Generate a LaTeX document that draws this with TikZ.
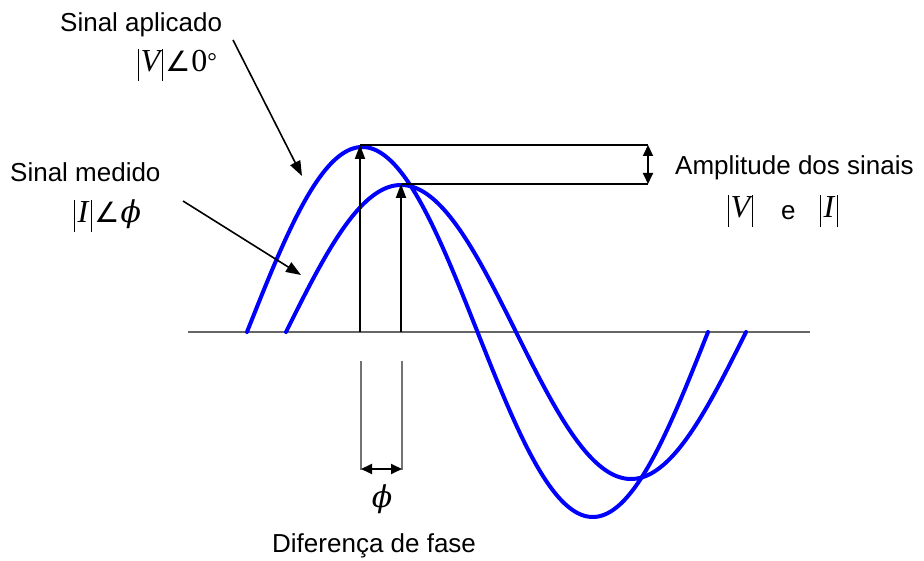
\documentclass[tikz,border=0pt]{standalone}
\usepackage[no-math]{fontspec}
\setmainfont{Liberation Sans}
\newfontfamily\tms{Liberation Serif}
\newfontfamily\djsans{DejaVu Sans}
\newfontfamily\djserif{DejaVu Serif}
\usetikzlibrary{arrows.meta}
\newcommand{\tV}{{\tms\itshape V}}
\newcommand{\tI}{{\tms\itshape I}}
\newcommand{\vbarx}{\kern1.5pt\rule[-9pt]{1.3pt}{32pt}\kern1.5pt}
\newcommand{\ang}{{\djsans\fontsize{28}{30}\selectfont\kern1pt ∠\kern1pt}}
\newcommand{\tphi}{{\djserif\itshape\fontsize{30}{32}\selectfont ϕ}}
\begin{document}
\begin{tikzpicture}[x=1pt,y=-1pt,
  lbl/.style={inner sep=0pt, font=\fontsize{26}{30}\selectfont},
  mth/.style={inner sep=0pt, font=\tms\fontsize{32}{36}\selectfont},
  sig/.style={draw=blue, line width=4pt, line join=round, line cap=round},
  ptr/.style={line width=1.6pt, -{Triangle[length=15pt,width=11pt]}},
  bigarrow/.style={line width=2pt, -{Triangle[length=14pt,width=10pt]}},
  dimarrow/.style={line width=1.8pt, {Triangle[length=11pt,width=10pt]}-{Triangle[length=11pt,width=10pt]}},
  guide/.style={line width=1.3pt, black},
  lowguide/.style={line width=1.5pt, black!55},
  axis/.style={line width=2pt, black!60}]
\useasboundingbox (0,0) rectangle (924,561);

% axis
\coordinate (ax0) at (188,332);
\coordinate (ax1) at (810,332);
\draw[axis] (ax0) -- (ax1);

% signals
\draw[sig] plot[domain=247:708, samples=240] (\x, {332-185*sin((\x-247)/461*360)});
\draw[sig] plot[domain=286:746, samples=240] (\x, {332-147*sin((\x-286)/460*360)});

% labels
\node[lbl, anchor=base west] (sa) at (60,32) {Sinal aplicado};
\node[mth, anchor=base west] (va) at (136,72) {\vbarx\tV\vbarx\ang 0{\fontsize{24}{26}\selectfont\raisebox{2pt}{°}}};
\node[lbl, anchor=base west] (sm) at (10,182) {Sinal medido};
\node[mth, anchor=base west] (ia) at (72,223) {\vbarx\kern1pt\tI\kern1pt\vbarx\ang\tphi};
\node[lbl, anchor=base west] (amp) at (675,175) {Amplitude dos sinais};
\node[mth, anchor=base west] (vb) at (726,218) {\vbarx\tV\vbarx};
\node[lbl, anchor=base west] (ee) at (781,220) {e};
\node[mth, anchor=base west] (ib) at (818,218) {\vbarx\kern1pt\tI\kern1pt\vbarx};
\node[mth, anchor=base] (phi) at (382,507) {\tphi};
\node[lbl, anchor=base west] (dif) at (272,552) {Diferença de fase};

% pointer arrows
\coordinate (a1s) at (233,40);
\coordinate (a1e) at (302,176);
\coordinate (a2s) at (183,201);
\coordinate (a2e) at (301,275);
\draw[ptr] (a1s) -- (a1e);
\draw[ptr] (a2s) -- (a2e);

% peak arrows
\coordinate (vbase) at (360,332);
\coordinate (vtop) at (360,145);
\coordinate (ibase) at (401,332);
\coordinate (itop) at (401,184);
\draw[bigarrow] (vbase) -- (vtop);
\draw[bigarrow] (ibase) -- (itop);

% amplitude guides
\coordinate (vr) at (648,145);
\coordinate (ir) at (648,184);
\draw[guide] (vtop) -- (vr);
\draw[guide] (itop) -- (ir);
\draw[dimarrow] (vr) -- (ir);

% phase guides
\coordinate (p1t) at (361,361);
\coordinate (p1b) at (361,470);
\coordinate (p2t) at (402,361);
\coordinate (p2b) at (402,470);
\draw[lowguide] (p1t) -- (p1b);
\draw[lowguide] (p2t) -- (p2b);
\coordinate (pa1) at (361,469);
\coordinate (pa2) at (402,469);
\draw[dimarrow] (pa1) -- (pa2);
\end{tikzpicture}
\end{document}
